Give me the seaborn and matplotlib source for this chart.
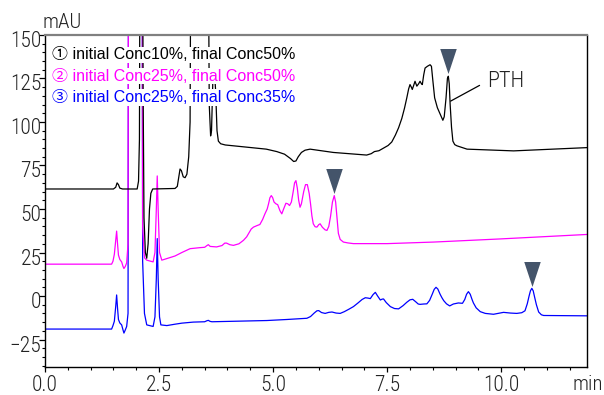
import numpy as np
import pandas as pd
import matplotlib
matplotlib.use("Agg")
import matplotlib.pyplot as plt
import matplotlib.transforms as mtransforms
from matplotlib.ticker import MultipleLocator, FormatStrFormatter
import seaborn as sns

# chromatogram traces (time in min, signal in mAU)
# values above 150 are off-scale solvent peaks that get clipped by the axis
black_t = [0.0, 1.50, 1.55, 1.58, 1.61, 1.64, 1.70, 2.02, 2.05, 2.07, 2.09, 2.13, 2.15, 2.17,
           2.20, 2.23, 2.26, 2.29, 2.32, 2.36, 2.85, 2.90, 2.93, 2.96, 2.99, 3.03, 3.07, 3.11,
           3.15, 3.18, 3.21, 3.56, 3.60, 3.63, 3.65, 3.68, 3.71, 3.74, 3.77, 3.80, 3.85, 3.95,
           4.85, 5.08, 5.25, 5.38, 5.45, 5.50, 5.55, 5.62, 5.70, 5.81, 6.32, 7.05, 7.15, 7.22,
           7.32, 7.42, 7.52, 7.60, 7.68, 7.75, 7.82, 7.88, 7.93, 7.97, 8.00, 8.03, 8.05, 8.08,
           8.11, 8.15, 8.19, 8.22, 8.25, 8.27, 8.30, 8.33, 8.38, 8.44, 8.47, 8.50, 8.54, 8.60,
           8.68, 8.72, 8.75, 8.79, 8.82, 8.84, 8.86, 8.88, 8.91, 8.94, 8.98, 9.03, 9.25, 10.27,
           11.9]
black_y = [61.5, 61.5, 62.5, 65, 64, 62, 61.5, 61.5, 66, 90, 300, 300, 120, 45,
           25, 21.7, 30, 50, 59, 61.5, 61.8, 63, 68, 73, 72, 68.5, 68, 70,
           80, 100, 300, 300, 110, 92, 95, 125, 130, 118, 95, 89, 87.5, 86.8,
           84.4, 83, 81.5, 79, 77.3, 77.6, 80, 82.5, 83.8, 84.4, 82.5, 81, 81.8, 83,
           83.5, 85, 86.5, 88.5, 92.5, 96.7, 102, 108, 113.9, 119, 121.5, 120, 118.7, 121,
           123.4, 120.6, 122, 123.4, 122, 121.5, 127, 131, 132, 132.9, 132, 124, 113.9, 108.2,
           103.4, 101, 103, 113.9, 125, 126.3, 122, 110, 97, 89, 87, 86.3, 84.4, 83.4,
           85.3]

magenta_t = [0.0, 1.46, 1.49, 1.52, 1.55, 1.57, 1.59, 1.61, 1.64, 1.68, 1.71, 1.73, 1.76, 1.79,
             1.82, 1.84, 2.12, 2.14, 2.18, 2.23, 2.37, 2.41, 2.44, 2.46, 2.48, 2.51, 2.56, 2.67,
             2.85, 3.00, 3.18, 3.40, 3.50, 3.55, 3.58, 3.62, 3.76, 3.88, 3.94, 3.98, 4.05, 4.13,
             4.25, 4.35, 4.42, 4.46, 4.52, 4.57, 4.65, 4.71, 4.77, 4.82, 4.87, 4.90, 4.93, 4.96,
             4.99, 5.02, 5.06, 5.10, 5.15, 5.19, 5.23, 5.28, 5.32, 5.36, 5.40, 5.44, 5.47, 5.50,
             5.53, 5.56, 5.59, 5.62, 5.67, 5.71, 5.75, 5.79, 5.82, 5.85, 5.88, 5.92, 5.96, 6.00,
             6.03, 6.08, 6.14, 6.18, 6.22, 6.26, 6.30, 6.34, 6.37, 6.40, 6.43, 6.47, 6.54, 6.64,
             6.76, 7.50, 8.52, 9.98, 11.9]
magenta_y = [18.3, 18.3, 20, 24, 32, 37.3, 30, 23.5, 21, 19.6, 17, 15.8, 17, 19,
             30, 400, 400, 40, 22, 20.6, 19.6, 25, 50, 69, 50, 25, 20.6, 21.5,
             23, 25, 27.2, 27.8, 28, 29, 29.5, 28.5, 28.2, 29, 30.4, 30.4, 29.5, 29.1,
             30, 32, 34, 35.8, 38.5, 39.6, 40.5, 41.1, 44, 47.2, 50, 53, 56.5, 57.7,
             56.5, 54, 53, 52.5, 49, 47.2, 50, 53.3, 53, 52, 54, 60, 65, 66.3,
             62, 55, 51, 53, 60, 64, 64, 59, 53, 46, 41.5, 39.8, 39.6, 41,
             41.5, 39.5, 38, 37.7, 40, 46, 54, 57.7, 54, 45, 36, 32.5, 31, 30.5,
             30.1, 30.1, 31, 32.8, 35.4]

blue_t = [0.0, 1.46, 1.49, 1.52, 1.55, 1.57, 1.59, 1.61, 1.64, 1.68, 1.71, 1.73, 1.76, 1.79,
          1.82, 1.84, 2.12, 2.14, 2.18, 2.23, 2.37, 2.41, 2.44, 2.46, 2.48, 2.51, 2.54, 2.67,
          2.85, 3.00, 3.25, 3.50, 3.55, 3.58, 3.62, 3.66, 4.86, 5.30, 5.74, 5.82, 5.90, 5.96,
          6.00, 6.06, 6.14, 6.22, 6.29, 6.38, 6.47, 6.56, 6.66, 6.76, 6.86, 6.95, 7.02, 7.08,
          7.13, 7.19, 7.24, 7.29, 7.35, 7.39, 7.42, 7.48, 7.57, 7.66, 7.75, 7.85, 7.93, 8.00,
          8.06, 8.12, 8.18, 8.22, 8.30, 8.37, 8.43, 8.49, 8.53, 8.57, 8.61, 8.66, 8.70, 8.74,
          8.80, 8.87, 8.95, 9.06, 9.15, 9.20, 9.24, 9.28, 9.32, 9.36, 9.39, 9.45, 9.54, 9.65,
          9.83, 10.05, 10.20, 10.34, 10.45, 10.52, 10.57, 10.61, 10.64, 10.67, 10.70, 10.73, 10.77, 10.82,
          10.88, 10.93, 11.9]
blue_y = [-19, -19, -17, -14.5, -6, 0.6, -7, -13.5, -15.5, -16.6, -19.5, -21.3, -19.5, -17.5,
          -10, 400, 400, 20, -10, -16.6, -17.5, -12, 10, 33, 10, -12, -16.6, -17,
          -16.2, -15.6, -15, -14.8, -14.2, -14.0, -14.6, -14.8, -14.1, -13.5, -12.8, -11.8, -9.8, -8.5,
          -8.4, -9.5, -10, -9.4, -9.2, -9.8, -10, -9, -7.6, -6.1, -4, -2, -1, -1.2,
          -1.5, 0.8, 2.1, 0, -2.3, -1.8, -1.7, -3.8, -6.1, -7.2, -7.4, -5.5, -3.6, -2.2,
          -1.9, -3.2, -4.6, -4.8, -4.6, -4.5, -2.5, 1.2, 3.8, 5, 4, 1, -1, -2.7,
          -4.5, -5.7, -4.6, -4, -4.2, -2, 1, 2.5, 1, -2, -4, -6.8, -9, -10,
          -10.5, -9.4, -9.8, -10, -9.6, -8.5, -4.5, 0, 3, 4.4, 3, -0.5, -5, -9.2,
          -10.8, -11.2, -11.4]

run_labels = ["① initial Conc10%, final Conc50%",
              "② initial Conc25%, final Conc50%",
              "③ initial Conc25%, final Conc35%"]
run_colors = ["#000000", "#ff00ff", "#0000ff"]
marked_peaks = [8.84, 6.34, 10.67]  # retention time of the target peak in each run

traces = [(black_t, black_y), (magenta_t, magenta_y), (blue_t, blue_y)]
df = pd.concat([pd.DataFrame({"time": t, "signal": y, "run": lab})
                for (t, y), lab in zip(traces, run_labels)], ignore_index=True)

sns.set_style("ticks")
tick_font = ["Roboto Condensed", "Roboto", "DejaVu Sans"]
legend_font = ["Liberation Sans", "Noto Sans CJK JP", "DejaVu Sans"]

fig = plt.figure(figsize=(6.04, 3.95), dpi=100)
ax = fig.add_axes([0.0745, 0.0709, 0.8974, 0.8405])

sns.lineplot(data=df, x="time", y="signal", hue="run", hue_order=run_labels[::-1],
             palette=dict(zip(run_labels, run_colors)), sort=False, estimator=None,
             linewidth=0.9, legend=False, ax=ax)

ax.set_xlim(0, 11.88)
ax.set_ylim(-40.8, 150)
ax.set_xlabel("")
ax.set_ylabel("")
ax.xaxis.set_major_locator(MultipleLocator(2.5))
ax.xaxis.set_minor_locator(MultipleLocator(0.5))
ax.yaxis.set_major_locator(MultipleLocator(25))
ax.yaxis.set_minor_locator(MultipleLocator(5))
ax.xaxis.set_major_formatter(FormatStrFormatter("%.1f"))

ax.tick_params(axis="both", which="major", direction="out", width=0.9, color="black")
ax.tick_params(axis="x", which="major", length=3.5, pad=2.5)
ax.tick_params(axis="y", which="major", length=4, pad=-1.5)
ax.tick_params(axis="both", which="minor", direction="out", length=2, width=0.8, color="black")
for lab in ax.get_xticklabels() + ax.get_yticklabels():
    lab.set_fontfamily(tick_font)
    lab.set_fontweight("light")
    lab.set_fontsize(15.5)
    lab.set_color("#222222")
shift = mtransforms.ScaledTranslation(0, -4 / 100, fig.dpi_scale_trans)
for lab in ax.get_yticklabels():
    lab.set_transform(lab.get_transform() + shift)

for side in ["left", "bottom", "right"]:
    ax.spines[side].set_color("black")
    ax.spines[side].set_linewidth(1.0)
ax.spines["top"].set_color("#808080")
ax.spines["top"].set_linewidth(1.6)

# triangle markers above the target peak of each run
tri = [(-0.33, 0.5), (0.33, 0.5), (0.0, -0.5)]
for (t, y), pk in zip(traces, marked_peaks):
    top = np.interp(pk, t, y)
    ax.scatter([pk], [top + 8.5], marker=tri, s=18 ** 2, color="#44546a",
               linewidths=0, zorder=5, clip_on=False)

ax.annotate("PTH", xy=(8.89, 112), xytext=(9.69, 123.4), fontsize=16,
            family=tick_font, fontweight="light", color="#222222", ha="left", va="center",
            arrowprops=dict(arrowstyle="-", color="black", lw=0.9,
                            shrinkA=3.5, shrinkB=0, relpos=(0, 0.5)))

# run labels, one per row with a white box so the traces pass behind them
for i, (lab, col) in enumerate(zip(run_labels, run_colors)):
    ax.text(0.012, 0.94 - i * 0.064, lab, transform=ax.transAxes, fontsize=11.5,
            family=legend_font, color=col, ha="left", va="center", zorder=6,
            bbox=dict(facecolor="white", edgecolor="none", pad=0.6))

fig.text(43 / 604, 1 - 22 / 395, "mAU", fontsize=15, family=tick_font,
         fontweight="light", color="#222222", ha="left", va="center")
fig.text(0.998, 1 - 385 / 395, "min", fontsize=15, family=tick_font,
         fontweight="light", color="#222222", ha="right", va="center")

fig.savefig("out.png", dpi=100)
